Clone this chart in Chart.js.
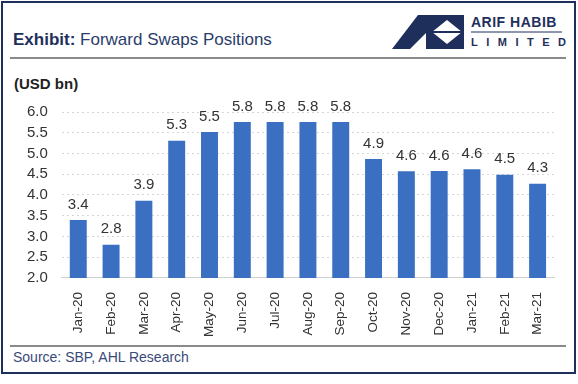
<!DOCTYPE html>
<html><head><meta charset="utf-8">
<script src="https://cdn.jsdelivr.net/npm/chart.js@4"></script>
<style>
html,body{margin:0;padding:0;background:#fff;width:578px;height:384px;overflow:hidden;font-family:Arial,"Liberation Sans",sans-serif;}
#frame{position:absolute;left:1px;top:1px;width:571px;height:369px;border:2px solid #1f2f5c;}
#title{position:absolute;left:13px;top:30px;font-size:17px;color:#2a3d6b;}
#title b{color:#1f2f5c;}
#hr1{position:absolute;left:10px;top:57px;width:556px;height:2px;background:#8a8a8a;}
#hr2{position:absolute;left:10px;top:345px;width:556px;height:2px;background:#8a8a8a;}
#src{position:absolute;left:13px;top:349px;font-size:14px;color:#3a4a7a;}
#unit{position:absolute;left:14px;top:75px;font-size:15px;font-weight:bold;color:#222;}
#logo{position:absolute;left:392px;top:13px;}
#wrap{position:absolute;left:0;top:89px;width:578px;height:254px;}
</style></head><body>
<div id="frame"></div>
<div id="title"><b>Exhibit:</b> Forward Swaps Positions</div>
<svg id="logo" width="175" height="38" viewBox="0 0 175 38">
  <polygon points="0,36 26,2 40,2 40,36" fill="#1f2f5c"/>
  <polygon points="18,36 34,20 34,36" fill="#fff"/>
  <rect x="38" y="2" width="34" height="34" fill="#1f2f5c"/>
  <polygon points="55,7 70,19 55,31 40,19" fill="#fff"/>
  <line x1="40" y1="19" x2="70" y2="19" stroke="#1f2f5c" stroke-width="2"/>
  <text x="79" y="14" font-family="Arial" font-weight="bold" font-size="14" fill="#1f2f5c" letter-spacing="0.5">ARIF HABIB</text>
  <line x1="79" y1="19" x2="170" y2="19" stroke="#1f2f5c" stroke-width="1"/>
  <text x="79" y="33" font-family="Arial" font-weight="bold" font-size="11" fill="#1f2f5c" letter-spacing="8.5">LIMITED</text>
</svg>
<div id="hr1"></div>
<div id="unit">(USD bn)</div>
<div id="wrap"><canvas id="c" width="578" height="254"></canvas></div>
<div id="hr2"></div>
<div id="src">Source: SBP, AHL Research</div>
<script>
const categories = ["Jan-20","Feb-20","Mar-20","Apr-20","May-20","Jun-20","Jul-20","Aug-20","Sep-20","Oct-20","Nov-20","Dec-20","Jan-21","Feb-21","Mar-21"];
const swapValues = [3.4,2.8,3.86,5.31,5.52,5.76,5.76,5.76,5.76,4.87,4.57,4.58,4.62,4.49,4.27];
const yTicks = [2.0,2.5,3.0,3.5,4.0,4.5,5.0,5.5,6.0];

const labelPlugin = {
  id:'vals',
  afterDatasetsDraw(chart){
    const ctx = chart.ctx;
    const meta = chart.getDatasetMeta(0);
    ctx.save();
    ctx.font = '15px Arial';
    ctx.fillStyle = '#333';
    ctx.textAlign = 'center';
    ctx.textBaseline = 'bottom';
    meta.data.forEach((bar,i)=>{
      ctx.fillText(swapValues[i].toFixed(1), bar.x, bar.y - 8);
    });
    ctx.restore();
  }
};

new Chart(document.getElementById('c'),{
  type:'bar',
  data:{labels:categories,datasets:[{data:swapValues,backgroundColor:'#3b6fc1',borderWidth:0,barPercentage:0.94,categoryPercentage:0.55}]},
  options:{
    responsive:false,animation:false,
    layout:{padding:{left:13,right:24,top:4,bottom:0}},
    plugins:{legend:{display:false},tooltip:{enabled:false}},
    scales:{
      x:{grid:{display:false},border:{display:true,color:'#d0d0d0',dash:[2,3]},
        ticks:{color:'#333',font:{size:13.5,family:'Arial'},maxRotation:90,minRotation:90,padding:6,autoSkip:false}},
      y:{min:2,max:6,afterBuildTicks(ax){ax.ticks=yTicks.map(v=>({value:v}));},
        grid:{color:'#d6d6d6',borderDash:[2,3],drawTicks:false},
        border:{display:false,dash:[2,3]},
        ticks:{color:'#333',font:{size:15,family:'Arial'},padding:14,autoSkip:false,callback:v=>v.toFixed(1)}}
    }
  },
  plugins:[labelPlugin]
});
</script>
</body></html>
